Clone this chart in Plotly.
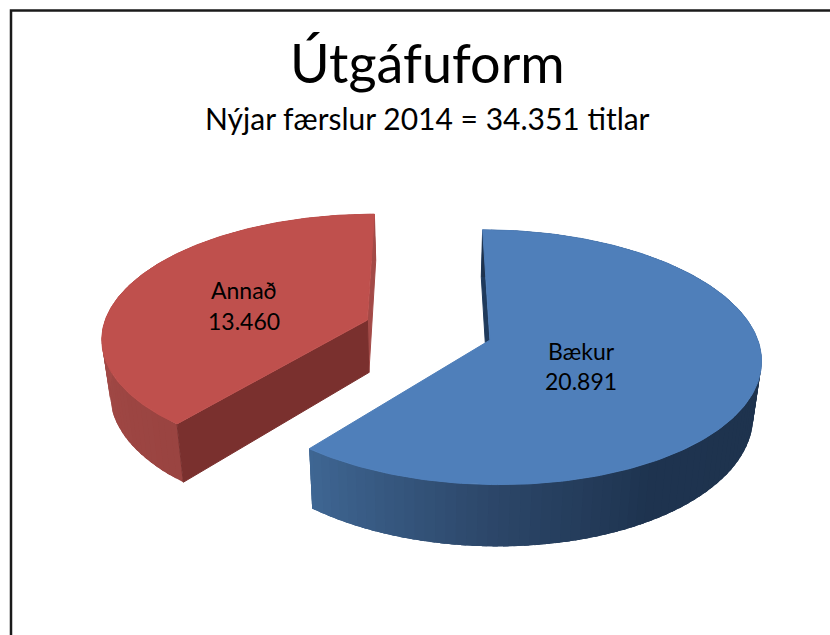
import numpy as np
import plotly.graph_objects as go

# ---- data ----
categories = ["Bækur", "Annað"]
values = [20891, 13460]
title_text = "Útgáfuform"
subtitle_text = "Nýjar færslur 2014 = 34.351 titlar"

# ---- styles ----
top_colors = ["#4f7fba", "#bf504d"]
wall_colors = ["#1f3a5c", "#a34a47"]
front_wall_color = "#7a302e"
side_stops = [
    ([120, 150, 180, 219], [(30, 51, 78), (30, 52, 80), (44, 70, 104), (63, 103, 148)]),
    ([219, 270, 360], [(154, 68, 65), (163, 74, 71), (163, 74, 71)]),
]
label_pos = [(581, 351, 381), (244, 290, 321)]

# ---- perspective model of the pie ----
CX, VY, B, D = 428.0, -594.0, 924.0, 2000.0
RADIUS, EXPLODE, HEIGHT, BOTTOM_SHRINK = 265.0, 65.0, 53.0, 0.975


def project(X, Z, bottom=False):
    w = D / (D + Z)
    if bottom:
        return CX + X * w * BOTTOM_SHRINK, VY + (B + HEIGHT) * w
    return CX + X * w, VY + B * w


total = sum(values)
spans = []
a = 0.0
for v in values:
    spans.append((a, a + 360.0 * v / total))
    a = spans[-1][1]

fig = go.Figure()


def poly(x, y, color, lw=1):
    fig.add_trace(go.Scatter(
        x=list(x), y=list(y), mode="lines", fill="toself", fillcolor=color,
        line=dict(color=color, width=lw), hoverinfo="skip", showlegend=False))


def shade(idx, theta):
    angs, cols = side_stops[idx]
    return "rgb(%d,%d,%d)" % tuple(
        np.interp(theta, angs, [c[i] for c in cols]) for i in range(3))


for i, (a0, a1) in enumerate(spans):
    mid = np.radians((a0 + a1) / 2)
    cxw, czw = EXPLODE * np.sin(mid), EXPLODE * np.cos(mid)

    def rim(theta_deg, r=RADIUS):
        t = np.radians(theta_deg)
        return cxw + r * np.sin(t), czw + r * np.cos(t)

    def wall(theta_deg, color):
        Xo, Zo = rim(theta_deg)
        p = [project(Xo, Zo), project(Xo, Zo, True),
             project(cxw, czw, True), project(cxw, czw)]
        poly([q[0] for q in p], [q[1] for q in p], color)

    # radial walls
    if i == 0:
        wall(a0, wall_colors[0])
    else:
        wall(a1, wall_colors[1])

    # outer curved side, as shaded overlapping strips (no seams)
    edges = np.arange(a0, a1 + 0.01, 2.0)
    if edges[-1] < a1:
        edges = np.append(edges, a1)
    for t0, t1 in zip(edges[:-1], edges[1:]):
        ts = np.linspace(t0, min(t1 + 3.0, a1), 6)
        X, Z = rim(ts)
        xt, yt = project(X, Z)
        xb, yb = project(X, Z, True)
        poly(np.concatenate([xt, xb[::-1]]), np.concatenate([yt, yb[::-1]]),
             shade(i, (t0 + t1) / 2), lw=0)

    if i == 1:
        wall(a0, front_wall_color)

    # top face
    th = np.linspace(a0, a1, 200)
    X, Z = rim(th)
    xt, yt = project(np.append(X, cxw), np.append(Z, czw))
    poly(np.append(xt, xt[0]), np.append(yt, yt[0]), top_colors[i])

annotations = [
    dict(x=427, y=62, text=title_text, font=dict(size=54)),
    dict(x=427, y=118, text=subtitle_text, font=dict(size=30)),
]
for name, v, (lx, ly1, ly2) in zip(categories, values, label_pos):
    annotations.append(dict(x=lx, y=ly1, text=name, font=dict(size=23)))
    annotations.append(dict(x=lx, y=ly2, text=f"{v:,}".replace(",", "."), font=dict(size=23)))
for an in annotations:
    an.update(xref="x", yref="y", showarrow=False, xanchor="center", yanchor="middle")
    an["font"].update(family="Lato, Carlito, sans-serif", color="#000000")

fig.update_layout(
    width=830, height=635, margin=dict(l=0, r=0, t=0, b=0),
    paper_bgcolor="white", plot_bgcolor="white", showlegend=False,
    xaxis=dict(range=[0, 830], visible=False, fixedrange=True),
    yaxis=dict(range=[635, 0], visible=False, fixedrange=True),
    annotations=annotations,
    shapes=[dict(type="rect", xref="x", yref="y", x0=11, y0=10.5, x1=860, y1=700,
                 line=dict(color="#1a1a1a", width=2.5), layer="below")],
)
fig.write_html("out.html", config=dict(displayModeBar=False),
               post_script="document.body.style.margin='0';document.body.style.overflow='hidden';")
